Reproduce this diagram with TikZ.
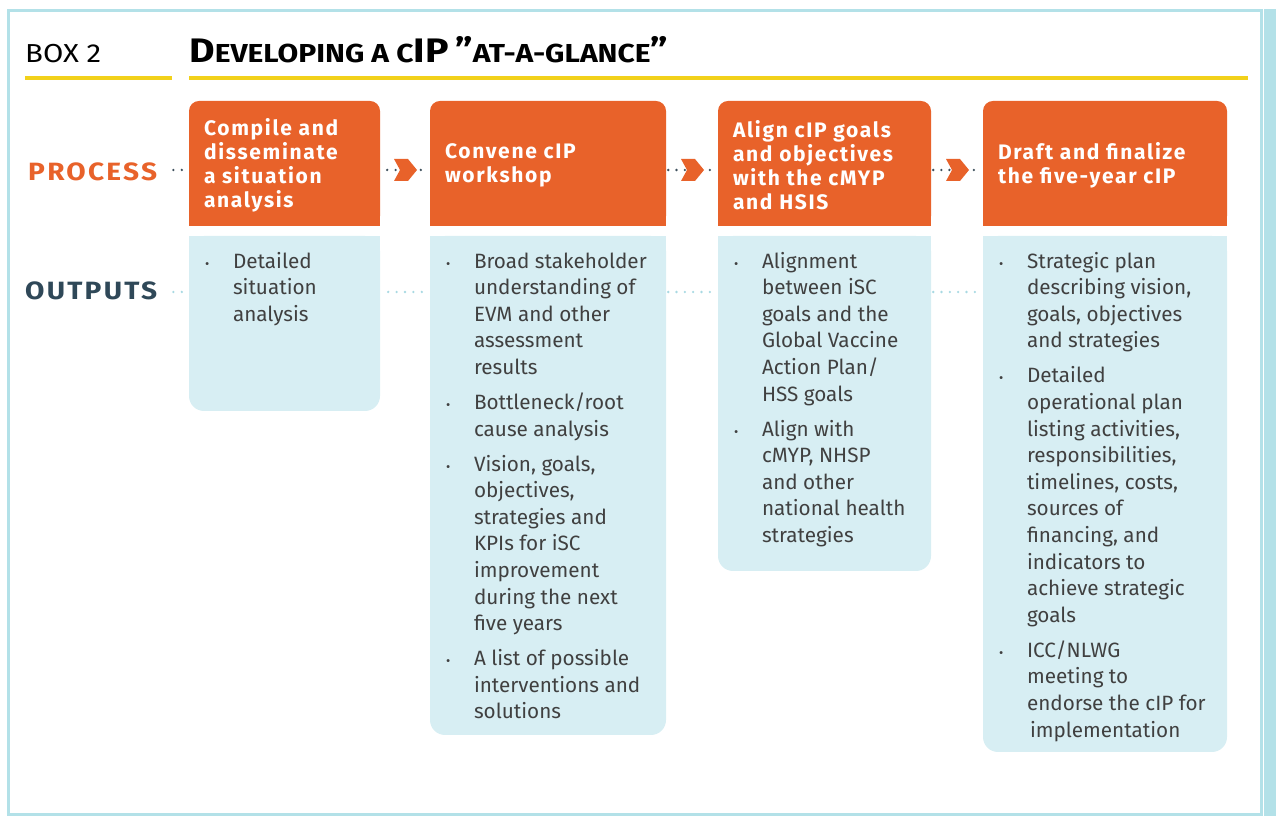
\documentclass[tikz,border=0pt]{standalone}
\usepackage{fontspec}
\setmainfont{Fira Sans}
\usepackage{graphicx}
\usetikzlibrary{calc}
\definecolor{orangec}{HTML}{E8622A}
\definecolor{lightc}{HTML}{D7EEF3}
\definecolor{frameblue}{HTML}{B3E1E8}
\definecolor{yellowc}{HTML}{F2D11A}
\definecolor{slatec}{HTML}{2F4858}
\definecolor{textgray}{HTML}{404040}
\definecolor{dotdark}{HTML}{3D4F5C}
\definecolor{dotlight}{HTML}{A8D9E2}
\newcommand\dotrow[4]{\foreach \k in {0,...,#3}{\fill[#4] ($(#1)!{\k/#3}!(#2)$) circle (1.3pt);}}
\newcommand\outlist[1]{{\fontsize{20.7}{26.6}\selectfont\color{textgray}\begin{tabular}{@{}p{29pt}@{}l@{}}#1\end{tabular}}}
\newcommand\bul{\hspace{1pt}{\fontsize{13}{13}\selectfont\textbullet}}
\tikzset{
  pbox/.style={fill=orangec, rounded corners=10pt, inner sep=0pt, draw=none},
  obox/.style={fill=lightc, rounded corners=15pt, inner sep=0pt, draw=none},
  ptext/.style={anchor=west, inner sep=0pt, text=white, align=left,
    font=\fontsize{21}{24}\selectfont\bfseries\addfontfeatures{LetterSpace=8}},
  otext/.style={anchor=north west, inner sep=0pt},
}
\begin{document}
\begin{tikzpicture}[x=1pt,y=1pt]
\useasboundingbox (0,0) rectangle (1276,816);
% frame
\draw[frameblue, line width=3pt] (8,2) rectangle (1261,805.5);
\fill[frameblue] (1264,0) rectangle (1276,807);
% header
\node[anchor=base west, inner sep=0pt] (box) at (25,753)
  {\resizebox{76pt}{\height}{\fontsize{26}{26}\selectfont BOX 2}};
\fill[yellowc] (25,736) rectangle (172,740);
\fill[yellowc] (189,736) rectangle (1248,740);
\node[anchor=base west, inner sep=0pt] (title) at (189,753)
  {\resizebox{479pt}{\height}{\bfseries\fontsize{34}{34}\selectfont D\fontsize{26}{26}\selectfont EVELOPING A C\fontsize{34}{34}\selectfont IP\,''\fontsize{26}{26}\selectfont AT-A-GLANCE\fontsize{34}{34}\selectfont''}};
% row labels
\node[anchor=base west, inner sep=0pt, text=orangec] (proc) at (28,635)
  {\resizebox{129pt}{\height}{\fontsize{25}{25}\selectfont\bfseries\addfontfeatures{LetterSpace=8}PROCESS}};
\node[anchor=base west, inner sep=0pt, text=slatec] (outp) at (25,516)
  {\resizebox{132pt}{\height}{\fontsize{25}{25}\selectfont\bfseries\addfontfeatures{LetterSpace=8}OUTPUTS}};
\coordinate (pr) at (0,646);
\coordinate (orow) at (0,524);
% process boxes
\node[pbox, minimum width=191pt, minimum height=125pt] (p1) at (284.5,652.5) {};
\node[pbox, minimum width=236pt, minimum height=125pt] (p2) at (548,652.5) {};
\node[pbox, minimum width=213pt, minimum height=125pt] (p3) at (824.5,652.5) {};
\node[pbox, minimum width=244pt, minimum height=125pt] (p4) at (1105,652.5) {};
\foreach \n in {p1,p2,p3,p4}{\fill[orangec] (\n.west) rectangle (\n.south east);}
\node[ptext] (t1) at ($(p1.west)+(15,-1.5)$) {Compile and\\disseminate\\a situation\\analysis};
\node[ptext] (t2) at ($(p2.west)+(15,-1.5)$) {Convene cIP\\workshop};
\node[ptext] (t3) at ($(p3.west)+(15,-1.5)$) {Align cIP goals\\and objectives\\with the cMYP\\and HSIS};
\node[ptext] (t4) at ($(p4.west)+(15,-1.5)$) {Draft and finalize\\the five-year cIP};
% output boxes
\node[obox, minimum width=191pt, minimum height=175pt] (o1) at (284.5,492.5) {};
\node[obox, minimum width=236pt, minimum height=499pt] (o2) at (548,330.5) {};
\node[obox, minimum width=213pt, minimum height=335pt] (o3) at (824.5,412.5) {};
\node[obox, minimum width=244pt, minimum height=516pt] (o4) at (1105,322) {};
\foreach \n in {o1,o2,o3,o4}{\fill[lightc] (\n.west) rectangle (\n.north east);}
\node[otext] (l1) at ($(o1.north west)+(15,-13.5)$) {\outlist{\bul & Detailed\\ & situation\\ & analysis}};
\node[otext] (l2) at ($(o2.north west)+(15,-13.5)$) {\outlist{\bul & Broad stakeholder\\ & understanding of\\ & EVM and other\\ & assessment\\ & results\\[8.4pt]
\bul & Bottleneck/root\\ & cause analysis\\[8.4pt]
\bul & Vision, goals,\\ & objectives,\\ & strategies and\\ & KPIs for iSC\\ & improvement\\ & during the next\\ & five years\\[8.4pt]
\bul & A list of possible\\ & interventions and\\ & solutions}};
\node[otext] (l3) at ($(o3.north west)+(15,-13.5)$) {\outlist{\bul & Alignment\\ & between iSC\\ & goals and the\\ & Global Vaccine\\ & Action Plan/\\ & HSS goals\\[8.4pt]
\bul & Align with\\ & cMYP, NHSP\\ & and other\\ & national health\\ & strategies}};
\node[otext] (l4) at ($(o4.north west)+(15,-13.5)$) {\outlist{\bul & Strategic plan\\ & describing vision,\\ & goals, objectives\\ & and strategies\\[8.4pt]
\bul & Detailed\\ & operational plan\\ & listing activities,\\ & responsibilities,\\ & timelines, costs,\\ & sources of\\ & financing, and\\ & indicators to\\ & achieve strategic\\ & goals\\[8.4pt]
\bul & ICC/NLWG\\ & meeting to\\ & endorse the cIP for\\ & \hspace{3pt}implementation}};
% process connectors
\dotrow{$(proc.east|-pr)+(16,0)$}{$(p1.west|-pr)+(-7,0)$}{1}{dotdark}
\dotrow{$(p1.east|-pr)+(7,0)$}{$(p2.west|-pr)+(-9,0)$}{4}{dotdark}
\dotrow{$(p2.east|-pr)+(2,0)$}{$(p3.west|-pr)+(-8,0)$}{5}{dotdark}
\dotrow{$(p3.east|-pr)+(2,0)$}{$(p4.west|-pr)+(-9,0)$}{5}{dotdark}
\foreach \a/\b in {p1/p2,p2/p3,p3/p4}{
  \fill[orangec] ($($(\a.east|-pr)!0.5!(\b.west|-pr)$)+(-2,0)$) coordinate (c)
    ++(-9,11) -- ++(14,0) -- ++(9,-11) -- ++(-9,-11) -- ++(-14,0) -- ++(6,11) -- cycle;
}
% output connectors
\dotrow{$(outp.east|-orow)+(16,0)$}{$(o1.west|-orow)+(-7,0)$}{1}{dotlight}
\dotrow{$(o1.east|-orow)+(8,0)$}{$(o2.west|-orow)+(-8,0)$}{4}{dotlight}
\dotrow{$(o2.east|-orow)+(2,0)$}{$(o3.west|-orow)+(-8,0)$}{5}{dotlight}
\dotrow{$(o3.east|-orow)+(2,0)$}{$(o4.west|-orow)+(-8,0)$}{5}{dotlight}
\end{tikzpicture}
\end{document}
